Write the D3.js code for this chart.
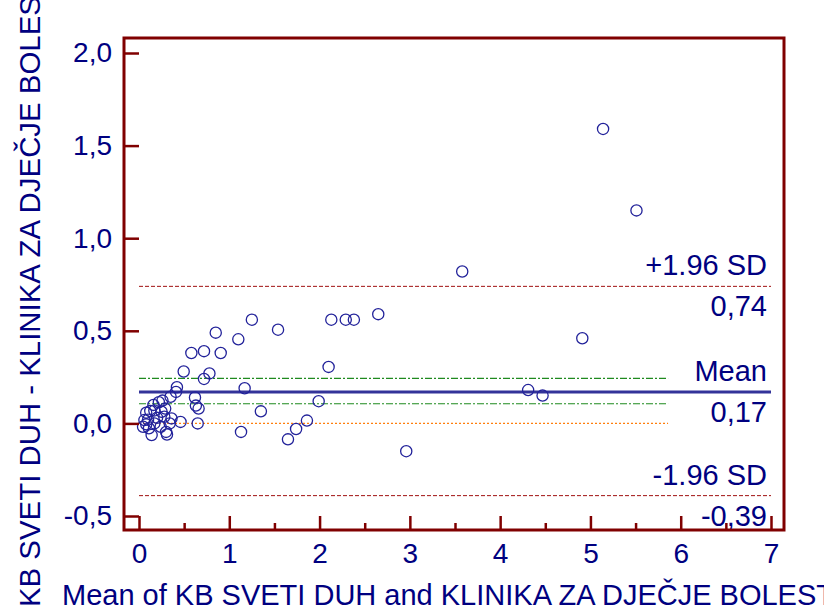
<!DOCTYPE html>
<html>
<head>
<meta charset="utf-8">
<script src="https://cdn.jsdelivr.net/npm/d3@7"></script>
<style>
  body { margin: 0; background: #fff; }
  svg { display: block; font-family: "Liberation Sans", Arial, sans-serif; }
</style>
</head>
<body>
<svg id="chart" width="824" height="608"></svg>
<script>
// Bland-Altman: mean of both methods (x) vs difference (y)
const meanVals = [
  5.14, 5.51, 3.58, 4.91, 4.31, 4.47, 2.96, 2.65, 2.13, 2.29,
  2.38, 2.10, 1.99, 1.86, 1.74, 1.65, 1.54, 1.25, 1.10, 0.85,
  0.905, 0.72, 0.58, 0.495, 0.78, 0.72, 1.17, 0.62, 0.63, 0.66,
  1.35, 0.65, 1.13, 0.42, 0.41, 0.46, 0.35, 0.26, 0.22, 0.16,
  0.17, 0.125, 0.08, 0.25, 0.28, 0.36, 0.06, 0.045, 0.11, 0.17,
  0.24, 0.34, 0.14, 0.30, 0.31, 0.10, 0.20, 0.29, 0.08
];
const diffVals = [
  1.59, 1.15, 0.82, 0.46, 0.18, 0.15, -0.15, 0.59, 0.56, 0.56,
  0.56, 0.305, 0.12, 0.015, -0.03, -0.086, 0.506, 0.56, 0.454, 0.49,
  0.38, 0.39, 0.38, 0.28, 0.27, 0.24, 0.19, 0.14, 0.096, 0.08,
  0.065, 0.0, -0.046, 0.195, 0.17, 0.008, 0.144, 0.123, 0.114, 0.10,
  0.07, 0.067, 0.058, 0.063, 0.036, 0.027, 0.018, -0.018, -0.026, 0.0,
  -0.018, 0.0, -0.063, -0.046, -0.06, 0.02, 0.03, 0.08, -0.005
];

const xTicks = [0, 1, 2, 3, 4, 5, 6, 7];
const xMinorTicks = [0.5, 1.5, 2.5, 3.5, 4.5, 5.5, 6.5];
const yTicks = [-0.5, 0, 0.5, 1.0, 1.5, 2.0];

const meanDiff = 0.17;
const upperLoA = 0.74;
const lowerLoA = -0.39;
const ciMean = [0.106, 0.243];   // 95% CI of mean difference
const lineLabels = [
  { value: upperLoA, top: "+1.96 SD", bottom: "0,74" },
  { value: meanDiff, top: "Mean", bottom: "0,17" },
  { value: lowerLoA, top: "-1.96 SD", bottom: "-0,39" }
];

const xTitle = "Mean of KB SVETI DUH and KLINIKA ZA DJEČJE BOLESTI";
const yTitle = "KB SVETI DUH - KLINIKA ZA DJEČJE BOLESTI";

const svg = d3.select("#chart");
const frame = { left: 124, right: 784, top: 38, bottom: 530 };
const maroon = "#800000";
const navy = "#000080";

const x = d3.scaleLinear().domain([0, 7]).range([139, 771]);
const y = d3.scaleLinear().domain([-0.5, 2.0]).range([516, 53]);
const fmt = d => d.toFixed(1).replace(".", ",");

// reference lines
const xEnd = 7;
const xShortEnd = 5.86;

svg.append("line")
  .attr("x1", x(0)).attr("x2", x(xShortEnd))
  .attr("y1", y(0)).attr("y2", y(0))
  .attr("stroke", "#ff7f0e").attr("stroke-width", 1.2)
  .attr("stroke-dasharray", "2,2");

svg.selectAll(".ci")
  .data(ciMean)
  .enter().append("line")
  .attr("x1", x(0)).attr("x2", x(xShortEnd))
  .attr("y1", d => y(d)).attr("y2", d => y(d))
  .attr("stroke", "#1f8a1f").attr("stroke-width", 1.1)
  .attr("stroke-dasharray", "7,2,2,2");

svg.selectAll(".loa")
  .data([upperLoA, lowerLoA])
  .enter().append("line")
  .attr("x1", x(0)).attr("x2", x(xEnd))
  .attr("y1", d => y(d)).attr("y2", d => y(d))
  .attr("stroke", "#a01010").attr("stroke-width", 1)
  .attr("stroke-dasharray", "4,2");

svg.append("line")
  .attr("x1", x(0)).attr("x2", x(xEnd))
  .attr("y1", y(meanDiff)).attr("y2", y(meanDiff))
  .attr("stroke", "#333399").attr("stroke-width", 3);

// points
svg.selectAll("circle")
  .data(meanVals.map((m, i) => [m, diffVals[i]]))
  .enter().append("circle")
  .attr("cx", d => x(d[0]))
  .attr("cy", d => y(d[1]))
  .attr("r", 5.6)
  .attr("fill", "none")
  .attr("stroke", "#22229a")
  .attr("stroke-width", 1.3);

// line labels
lineLabels.forEach(l => {
  svg.append("text")
    .attr("x", 767).attr("y", y(l.value) - 11)
    .attr("text-anchor", "end")
    .attr("fill", navy).attr("font-size", 29)
    .text(l.top);
  svg.append("text")
    .attr("x", 767).attr("y", y(l.value) + 30)
    .attr("text-anchor", "end")
    .attr("fill", navy).attr("font-size", 29)
    .text(l.bottom);
});

// axes
const yAxis = svg.append("g")
  .attr("transform", "translate(" + frame.left + ",0)")
  .call(d3.axisLeft(y).tickValues(yTicks).tickSize(-15).tickPadding(12).tickFormat(fmt));

const xAxis = svg.append("g")
  .attr("transform", "translate(0," + frame.bottom + ")")
  .call(d3.axisBottom(x).tickValues(xTicks).tickSize(-14).tickPadding(13).tickFormat(d3.format("d")));

const xMinor = svg.append("g")
  .attr("transform", "translate(0," + frame.bottom + ")")
  .call(d3.axisBottom(x).tickValues(xMinorTicks).tickSize(-7).tickFormat(""));

[yAxis, xAxis, xMinor].forEach(g => {
  g.select(".domain").remove();
  g.selectAll(".tick line").attr("stroke", maroon).attr("stroke-width", 2.5);
  g.selectAll(".tick text")
    .attr("fill", navy)
    .attr("font-size", 28)
    .attr("font-family", "Liberation Sans, Arial, sans-serif");
});

svg.append("rect")
  .attr("x", frame.left).attr("y", frame.top)
  .attr("width", frame.right - frame.left)
  .attr("height", frame.bottom - frame.top)
  .attr("fill", "none")
  .attr("stroke", maroon)
  .attr("stroke-width", 3);

// titles (the reference crops both titles at the page edge)
svg.append("text")
  .attr("x", 62).attr("y", 605)
  .attr("fill", navy).attr("font-size", 29)
  .text(xTitle);

svg.append("text")
  .attr("transform", "translate(40,607) rotate(-90)")
  .attr("fill", navy).attr("font-size", 29.4)
  .text(yTitle);
</script>
</body>
</html>
